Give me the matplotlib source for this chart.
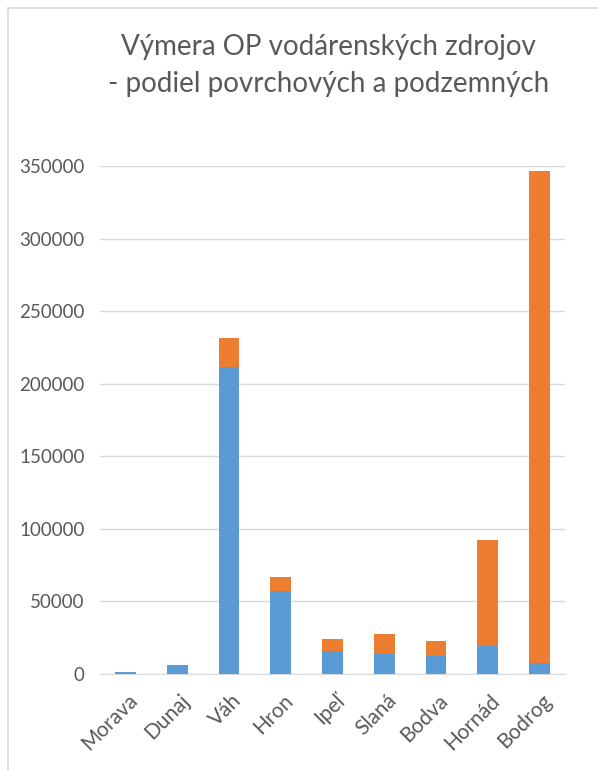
import matplotlib.pyplot as plt
import numpy as np
from matplotlib.lines import Line2D
from matplotlib.transforms import ScaledTranslation

rivers = ['Morava', 'Dunaj', 'Váh', 'Hron', 'Ipeľ', 'Slaná', 'Bodva', 'Hornád', 'Bodrog']
podzemne = [1000, 6000, 211500, 57000, 15400, 13800, 12400, 19100, 7100]
povrchove = [0, 0, 20000, 9400, 8500, 13900, 10200, 73100, 340000]

blue = '#5B9BD5'
orange = '#ED7D31'
gray = '#595959'

plt.rcParams['font.family'] = ['Lato', 'DejaVu Sans']

fig = plt.figure(figsize=(5.98, 7.70), dpi=100)
ax = fig.add_axes([0.167, 0.125, 0.778, 0.659])

x = np.arange(len(rivers))
ax.bar(x, podzemne, width=0.4, color=blue, zorder=3)
ax.bar(x, povrchove, width=0.4, bottom=podzemne, color=orange, zorder=3)

ax.set_xlim(-0.5, len(rivers) - 0.5)
ax.set_ylim(0, 350000)
ax.set_yticks(np.arange(0, 350001, 50000))
ax.grid(axis='y', color='#D9D9D9', linewidth=1, zorder=0)
for s in ['top', 'right', 'left']:
    ax.spines[s].set_visible(False)
ax.spines['bottom'].set_color('#D9D9D9')
ax.tick_params(length=0, colors=gray)
ax.tick_params(axis='y', pad=11, labelsize=13.5)
ax.tick_params(axis='x', pad=12, labelsize=15)
ax.set_xticks(x)
ax.set_xticklabels(rivers, rotation=45, ha='right', rotation_mode='anchor')
off = ScaledTranslation(2 / 100, 0, fig.dpi_scale_trans)
for lbl in ax.get_xticklabels():
    lbl.set_transform(lbl.get_transform() + off)

fig.text(0.549, 1 - 55 / 770, 'Výmera OP vodárenských zdrojov',
         ha='center', va='baseline', fontsize=20, color=gray)
fig.text(0.549, 1 - 92 / 770, '- podiel povrchových a podzemných',
         ha='center', va='baseline', fontsize=20, color=gray)

# chart frame (left and top edges only visible)
fig.add_artist(Line2D([0.013, 0.013], [0, 0.99], color='#D9D9D9', linewidth=1.2, transform=fig.transFigure))
fig.add_artist(Line2D([0.013, 1.0], [0.99, 0.99], color='#D9D9D9', linewidth=1.2, transform=fig.transFigure))

fig.savefig('out.png', dpi=100)
